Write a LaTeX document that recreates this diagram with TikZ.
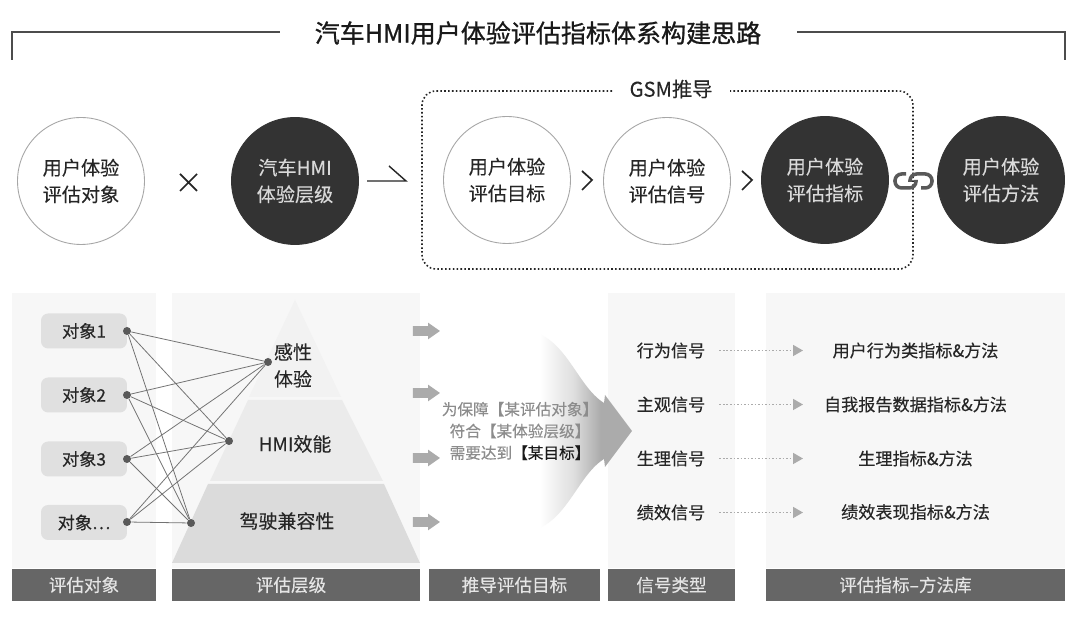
\documentclass[tikz,border=0pt]{standalone}
\usepackage{fontspec}
\setmainfont[FakeBold=0.25]{Noto Sans CJK SC}
\newfontfamily\titlefont[FakeBold=0.9]{Noto Sans CJK SC}
\usepackage{tikz}
\usetikzlibrary{positioning, arrows.meta, shapes.arrows}
\definecolor{darkfill}{HTML}{333333}
\definecolor{barfill}{HTML}{666666}
\definecolor{panelfill}{HTML}{F7F7F7}
\definecolor{tagfill}{HTML}{E0E0E0}
\definecolor{arrgray}{HTML}{ABABAB}
\pgfdeclarehorizontalshading{fadearr}{100bp}{color(0bp)=(white); color(34bp)=(white); color(49bp)=(black!13); color(61bp)=(arrgray); color(100bp)=(arrgray)}

\begin{document}
\begin{tikzpicture}[
    x=0.02cm, y=-0.02cm,
    ring/.style={circle, draw=gray!70, line width=0.5pt, fill=white, minimum size=2.54cm, inner sep=0pt, font=\fontsize{10.9pt}{15.2pt}\selectfont, align=center, text=black!85},
    darkring/.style={ring, draw=darkfill, fill=darkfill, text=white!85!black},
    panel/.style={fill=panelfill, draw=none},
    bar/.style={rectangle, fill=barfill, text=white!90!black, minimum height=0.64cm, inner sep=0pt, font=\fontsize{10pt}{12pt}\selectfont},
    tag/.style={rectangle, fill=tagfill, rounded corners=4pt, minimum width=1.72cm, minimum height=0.7cm, inner sep=0pt, font=\fontsize{9.8pt}{12pt}\selectfont, text=black!85},
    dot/.style={circle, fill=black!65, minimum size=0.16cm, inner sep=0pt},
    link/.style={draw=black!55, line width=0.45pt},
    level/.style={font=\fontsize{10.8pt}{15.3pt}\selectfont, align=center, text=black!85},
    label/.style={font=\fontsize{9.75pt}{12pt}\selectfont, align=center, text=black!85},
    blockarr/.style={single arrow, fill=arrgray, minimum height=0.54cm, inner xsep=0pt, inner ysep=0.09cm, single arrow head extend=0.07cm, single arrow tip angle=70},
    dotarr/.style={-{Triangle[length=2mm, width=2.2mm, color=arrgray]}, draw=arrgray, dash pattern=on 0.9pt off 1.1pt, line width=0.9pt, shorten <=0.16cm},
    chev/.style={line width=1pt, draw=black!85},
    chain/.style={line width=2pt, black!65, rounded corners=3.8pt},
]

% Page
\path[use as bounding box, fill=white] (0, 0) rectangle (1080, 617);

% Title
\node[font=\titlefont\fontsize{14.25pt}{16pt}\selectfont, text=black!90] (title) at (538, 33) {汽车HMI用户体验评估指标体系构建思路};
\draw[black!70, line width=0.6pt] (12, 60) -- (12, 32) -- (280, 32);
\draw[black!70, line width=0.6pt] (797, 32) -- (1065, 32) -- (1065, 60);

% GSM box
\draw[dash pattern=on 0.9pt off 1.3pt, line width=0.9pt, rounded corners=8pt, black!85] (612, 91) -- (422, 91) -- (422, 269) -- (913, 269) -- (913, 91) -- (730, 91);
\node[font=\fontsize{11.5pt}{13pt}\selectfont, text=black!85] (gsm) at (671, 89) {GSM推导};

% Top row
\node[ring] (obj) at (81, 181) {用户体验\\评估对象};
\node[darkring] (lay) at (295, 181) {汽车HMI\\体验层级};
\node[ring] (goal) at (507, 180) {用户体验\\评估目标};
\node[ring] (signal) at (667, 181) {用户体验\\评估信号};
\node[darkring] (metric) at (825, 180) {用户体验\\评估指标};
\node[darkring] (method) at (1001, 180) {用户体验\\评估方法};

\draw[chev] (180, 174) -- (197, 191) (197, 174) -- (180, 191);
\draw[line width=0.8pt, black!85] (367, 181) -- (406, 181) -- (389, 166);
\draw[chev] (582, 171) -- (592, 180) -- (582, 190);
\draw[chev] (742, 171) -- (752, 180) -- (742, 190);

% Link icon
\draw[chain] (906, 174) -- (895, 174) -- (895, 188) -- (916, 188) -- (916, 180);
\draw[chain] (921, 188) -- (932, 188) -- (932, 174) -- (910, 174) -- (910, 182);

% Panels
\fill[panel] (12, 293) rectangle (156, 568);
\fill[panel] (172, 293) rectangle (420, 568);
\fill[panel] (608, 293) rectangle (735, 568);
\fill[panel] (766, 293) rectangle (1065, 568);

% Bars
\node[bar, minimum width=2.88cm] (bar1) at (84, 585) {评估对象};
\node[bar, minimum width=4.96cm] (bar2) at (296, 585) {\hspace{-0.2cm}评估层级};
\node[bar, minimum width=3.42cm] (bar3) at (514.5, 585) {推导评估目标};
\node[bar, minimum width=2.54cm] (bar4) at (671.5, 585) {信号类型};
\node[bar, minimum width=5.98cm] (bar5) at (915.5, 585) {\hspace{-0.4cm}评估指标–方法库};

% Pyramid
\fill[black!5] (295, 300) -- (249, 397) -- (341, 397) -- cycle;
\fill[black!8] (248, 400) -- (342, 400) -- (383, 481) -- (210, 481) -- cycle;
\fill[black!14] (208, 484) -- (384, 484) -- (420, 563) -- (172, 563) -- cycle;
\node[level] (top) at (293, 365.5) {感性\\体验};
\node[level] (mid) at (295, 444) {HMI效能};
\node[level] (low) at (287, 521) {驾驶兼容性};

% Objects
\node[tag] (o1) at (84, 331) {对象1};
\node[tag] (o2) at (84, 395) {对象2};
\node[tag] (o3) at (84, 459) {对象3};
\node[tag] (o4) at (84, 522.5) {对象…};
\node[dot] (d1) at (127, 331) {};
\node[dot] (d2) at (127, 395) {};
\node[dot] (d3) at (127, 459) {};
\node[dot] (d4) at (127, 522) {};
\node[dot] (top dot) at (268, 362) {};
\node[dot] (mid dot) at (229, 441) {};
\node[dot] (low dot) at (191, 523) {};

% Links
\draw[link] (d1) -- (top dot);
\draw[link] (d1) -- (mid dot);
\draw[link] (d1) -- (low dot);
\draw[link] (d2) -- (top dot);
\draw[link] (d2) -- (mid dot);
\draw[link] (d2) -- (low dot);
\draw[link] (d3) -- (top dot);
\draw[link] (d3) -- (mid dot);
\draw[link] (d3) -- (low dot);
\draw[link] (d4) -- (top dot);
\draw[link] (d4) -- (mid dot);
\draw[link] (d4) -- (low dot);

% Block arrows
\node[blockarr] (b1) at (423, 331) {};
\node[blockarr] (b2) at (423, 393) {};
\node[blockarr] (b3) at (423, 458) {};
\node[blockarr] (b4) at (423, 522) {};

% Fading arrow
\shade[shading=fadearr] (520, 330) .. controls (565, 330) and (575, 385) .. (604, 403) -- (605, 395) -- (632, 431) -- (605, 467) -- (604, 459) .. controls (575, 477) and (565, 532) .. (520, 532) -- cycle;
\node[font=\fontsize{8.9pt}{12.4pt}\selectfont, align=center, text=black!45] (why) at (520, 431) {为保障【某评估对象】\\符合【某体验层级】\\需要达到\textcolor{black!90}{【某目标】}};

% Signals
\node[label] (s1) at (671, 350.5) {行为信号};
\node[label] (s2) at (671, 404.5) {主观信号};
\node[label] (s3) at (671, 458.5) {生理信号};
\node[label] (s4) at (671, 512.5) {绩效信号};
\coordinate (e1) at (803, 350.5);
\coordinate (e2) at (803, 404.5);
\coordinate (e3) at (803, 458.5);
\coordinate (e4) at (803, 512.5);
\draw[dotarr] (s1.east) -- (e1);
\draw[dotarr] (s2.east) -- (e2);
\draw[dotarr] (s3.east) -- (e3);
\draw[dotarr] (s4.east) -- (e4);

% Methods
\node[label] (m1) at (915.5, 350.5) {用户行为类指标\&方法};
\node[label] (m2) at (915.5, 404.5) {自我报告数据指标\&方法};
\node[label] (m3) at (915.5, 458.5) {生理指标\&方法};
\node[label] (m4) at (915.5, 512) {绩效表现指标\&方法};

\end{tikzpicture}
\end{document}
